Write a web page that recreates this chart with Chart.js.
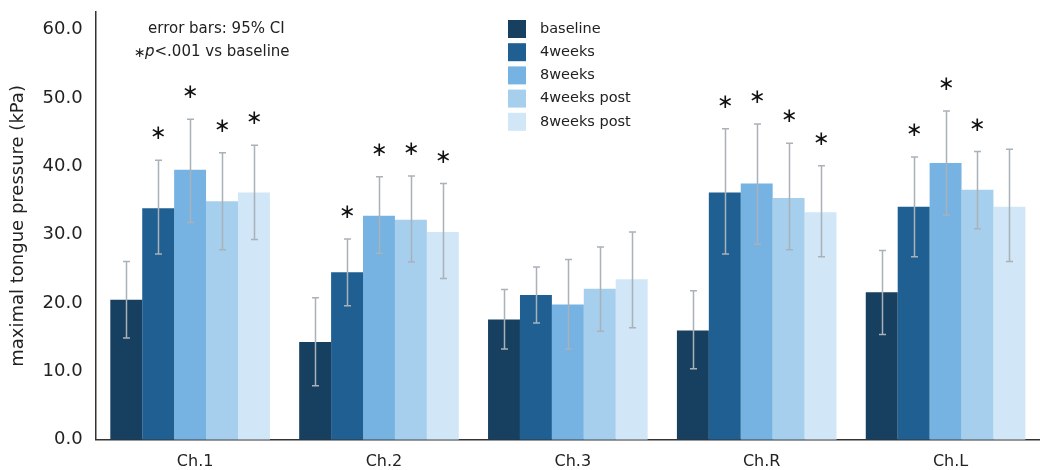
<!DOCTYPE html>
<html>
<head>
<meta charset="utf-8">
<script src="https://cdn.jsdelivr.net/npm/chart.js@4/dist/chart.umd.min.js"></script>
<style>
  html, body { margin: 0; padding: 0; background: #fff; }
  #wrap { width: 1040px; height: 470px; position: relative; }
</style>
</head>
<body>
<div id="wrap"><canvas id="chart"></canvas></div>
<script>
// ---- data ----
const categories = ['Ch.1', 'Ch.2', 'Ch.3', 'Ch.R', 'Ch.L'];
const seriesNames = ['baseline', '4weeks', '8weeks', '4weeks post', '8weeks post'];

const baseline   = [20.5, 14.3, 17.6, 16.0, 21.6];
const weeks4     = [33.9, 24.5, 21.2, 36.2, 34.1];
const weeks8     = [39.5, 32.8, 19.8, 37.5, 40.5];
const weeks4Post = [34.9, 32.2, 22.1, 35.4, 36.6];
const weeks8Post = [36.2, 30.4, 23.5, 33.3, 34.1];

// 95% CI lower / upper
const baselineLo   = [14.9, 7.9, 13.3, 10.4, 15.4];
const baselineHi   = [26.1, 20.8, 22.0, 21.8, 27.7];
const weeks4Lo     = [27.2, 19.6, 17.1, 27.2, 26.8];
const weeks4Hi     = [40.9, 29.4, 25.3, 45.5, 41.4];
const weeks8Lo     = [31.8, 27.3, 13.3, 28.6, 32.9];
const weeks8Hi     = [46.9, 38.5, 26.4, 46.2, 48.1];
const weeks4PostLo = [27.8, 26.0, 15.9, 27.8, 30.9];
const weeks4PostHi = [42.0, 38.6, 28.2, 43.4, 42.2];
const weeks8PostLo = [29.3, 23.6, 16.4, 26.8, 26.1];
const weeks8PostHi = [43.1, 37.5, 30.4, 40.1, 42.5];

// p<.001 vs baseline
const baselineSig   = [false, false, false, false, false];
const weeks4Sig     = [true, true, false, true, true];
const weeks8Sig     = [true, true, false, true, true];
const weeks4PostSig = [true, true, false, true, true];
const weeks8PostSig = [true, true, false, true, false];

const yTicks = [0, 10, 20, 30, 40, 50, 60];

const colors = ['#173f5f', '#1f5f92', '#76b3e2', '#a6cfee', '#d1e6f6'];
const FONT = 'DejaVu Sans';

const values = [baseline, weeks4, weeks8, weeks4Post, weeks8Post];
const lows = [baselineLo, weeks4Lo, weeks8Lo, weeks4PostLo, weeks8PostLo];
const highs = [baselineHi, weeks4Hi, weeks8Hi, weeks4PostHi, weeks8PostHi];
const sigs = [baselineSig, weeks4Sig, weeks8Sig, weeks4PostSig, weeks8PostSig];

// error bars + asterisks
const errorBarPlugin = {
  id: 'errorBars',
  afterDatasetsDraw(chart) {
    const ctx = chart.ctx;
    const y = chart.scales.y;
    ctx.save();
    chart.data.datasets.forEach((ds, i) => {
      const meta = chart.getDatasetMeta(i);
      meta.data.forEach((bar, j) => {
        const x = Math.round(bar.x) + 0.5;
        const yLo = y.getPixelForValue(lows[i][j]);
        const yHi = y.getPixelForValue(highs[i][j]);
        ctx.strokeStyle = '#a9b1b9';
        ctx.lineWidth = 1.5;
        ctx.beginPath();
        ctx.moveTo(x, yLo); ctx.lineTo(x, yHi);
        ctx.moveTo(x - 3.5, yLo); ctx.lineTo(x + 3.5, yLo);
        ctx.moveTo(x - 3.5, yHi); ctx.lineTo(x + 3.5, yHi);
        ctx.stroke();
        if (sigs[i][j]) {
          ctx.fillStyle = '#111';
          ctx.font = '20px ' + FONT;
          ctx.textAlign = 'center';
          ctx.textBaseline = 'middle';
          ctx.fillText('\u2217', x, yHi - 26);
        }
      });
    });
    ctx.restore();
  }
};

// legend + notes in the plot area
const notesPlugin = {
  id: 'notes',
  afterDraw(chart) {
    const ctx = chart.ctx;
    ctx.save();
    ctx.font = '14.5px ' + FONT;
    ctx.textBaseline = 'middle';
    ctx.textAlign = 'left';
    chart.data.datasets.forEach((ds, i) => {
      const ry = 29 + i * 23.2;
      ctx.fillStyle = ds.backgroundColor;
      ctx.fillRect(508, ry - 9, 18, 18);
      ctx.fillStyle = '#222';
      ctx.fillText(ds.label, 540, ry);
    });

    ctx.fillStyle = '#222';
    ctx.font = '15px ' + FONT;
    ctx.fillText('error bars: 95% CI', 148, 29);
    ctx.font = '14px ' + FONT;
    ctx.fillText('\u2217', 134, 53);
    ctx.font = 'italic 15px ' + FONT;
    ctx.fillText('p', 145, 52);
    const pw = ctx.measureText('p').width;
    ctx.font = '15px ' + FONT;
    ctx.fillText('<.001 vs baseline', 145 + pw, 52);
    ctx.restore();
  }
};

new Chart(document.getElementById('chart'), {
  type: 'bar',
  data: {
    labels: categories,
    datasets: seriesNames.map((name, i) => ({
      label: name,
      data: values[i],
      backgroundColor: colors[i],
      borderWidth: 0,
      categoryPercentage: 0.845,
      barPercentage: 1.0
    }))
  },
  options: {
    responsive: true,
    maintainAspectRatio: false,
    animation: false,
    layout: { padding: { top: 12, right: 0, left: 8, bottom: -13 } },
    plugins: {
      legend: { display: false },
      tooltip: { enabled: false }
    },
    scales: {
      x: {
        grid: { display: false, drawTicks: false },
        border: { display: true, color: '#333', width: 1.5 },
        ticks: { color: '#222', font: { family: FONT, size: 16 }, padding: 12, labelOffset: 5 }
      },
      y: {
        min: 0,
        max: 62.6,
        afterBuildTicks(axis) { axis.ticks = yTicks.map(v => ({ value: v })); },
        afterFit(axis) { axis.paddingTop = 0; axis.paddingBottom = 0; },
        grid: { display: false, drawTicks: false },
        border: { display: true, color: '#333', width: 1.5 },
        ticks: {
          color: '#222',
          font: { family: FONT, size: 18 },
          padding: 13,
          callback: v => v.toFixed(1)
        },
        title: {
          display: true,
          text: 'maximal tongue pressure (kPa)',
          color: '#222',
          font: { family: FONT, size: 18 },
          padding: { top: 0, bottom: 0 }
        }
      }
    }
  },
  plugins: [errorBarPlugin, notesPlugin]
});
</script>
</body>
</html>
